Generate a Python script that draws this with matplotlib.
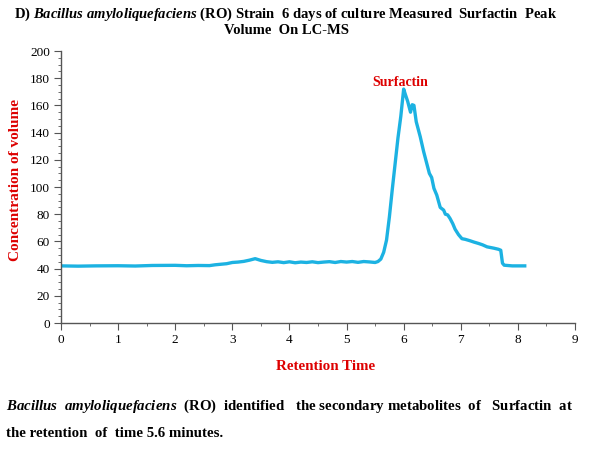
import matplotlib
matplotlib.use("Agg")
import matplotlib.pyplot as plt
from matplotlib.ticker import MultipleLocator

# ---- data ----
retention_time = [0.0, 0.3, 0.6, 1.0, 1.3, 1.6, 2.0, 2.2, 2.4, 2.6, 2.7, 2.8, 2.9, 3.0, 3.1,
                  3.2, 3.3, 3.4, 3.5, 3.6, 3.7, 3.8, 3.9, 4.0, 4.1, 4.2, 4.3, 4.4, 4.5, 4.6,
                  4.7, 4.8, 4.9, 5.0, 5.1, 5.2, 5.3, 5.4, 5.5, 5.55, 5.6, 5.65, 5.7, 5.75,
                  5.8, 5.85, 5.9, 5.95, 6.0, 6.03, 6.07, 6.12, 6.15, 6.18, 6.22, 6.29, 6.35,
                  6.40, 6.45, 6.49, 6.53, 6.58, 6.64, 6.70, 6.73, 6.77, 6.81, 6.86, 6.90,
                  6.96, 7.02, 7.08, 7.16, 7.23, 7.31, 7.38, 7.46, 7.52, 7.58, 7.66, 7.70,
                  7.73, 7.76, 7.9, 8.0, 8.12]
concentration = [42.0, 41.8, 42.0, 42.1, 41.9, 42.3, 42.4, 42.1, 42.3, 42.2, 42.8, 43.2, 43.6, 44.5, 44.8,
                 45.3, 46.2, 47.3, 46.0, 45.1, 44.6, 45.0, 44.4, 45.0, 44.3, 44.8, 44.5, 45.0, 44.4, 44.8,
                 45.1, 44.5, 45.2, 44.8, 45.2, 44.6, 45.2, 44.9, 44.5, 45.2, 47.0, 52.0, 61.0, 78.0,
                 98.0, 117.0, 136.0, 152.0, 172.0, 168.0, 163.0, 155.0, 160.5, 160.0, 148.0, 137.0, 126.0,
                 118.0, 110.0, 107.0, 99.0, 94.0, 85.0, 83.0, 80.0, 79.5, 77.0, 73.0, 69.0,
                 65.0, 62.0, 61.5, 60.5, 59.5, 58.5, 57.5, 56.0, 55.5, 55.0, 54.2, 53.5,
                 44.0, 42.5, 42.0, 42.0, 42.0]
x_ticks = [0, 1, 2, 3, 4, 5, 6, 7, 8, 9]
y_ticks = [0, 20, 40, 60, 80, 100, 120, 140, 160, 180, 200]

RED = "#dd0000"
LINE = "#1cb2e2"

plt.rcParams["font.family"] = ["Liberation Serif", "DejaVu Serif"]
plt.rcParams["mathtext.fontset"] = "custom"
plt.rcParams["mathtext.it"] = "Liberation Serif:italic:bold"
plt.rcParams["mathtext.rm"] = "Liberation Serif:bold"
plt.rcParams["mathtext.bf"] = "Liberation Serif:bold"

W, H = 600, 450
fig = plt.figure(figsize=(6, 4.5), dpi=100)
ax = fig.add_axes([61 / W, 1 - 323 / H, (575 - 61) / W, (323 - 51) / H])

ax.plot(retention_time, concentration, color=LINE, lw=2.4, solid_joinstyle="round")

ax.set_xlim(0, 9)
ax.set_ylim(0, 200)
ax.set_xticks(x_ticks)
ax.set_yticks(y_ticks)
ax.xaxis.set_minor_locator(MultipleLocator(0.5))
ax.yaxis.set_minor_locator(MultipleLocator(5))
for s in ["top", "right"]:
    ax.spines[s].set_visible(False)
for s in ["left", "bottom"]:
    ax.spines[s].set_color("#555555")
    ax.spines[s].set_linewidth(1.0)
ax.tick_params(which="major", length=5, color="#555555", labelsize=9.5, pad=3)
ax.tick_params(which="minor", length=2.5, color="#555555")

ax.text(5.94, 177, "Surfactin", color=RED, fontsize=10, fontweight="bold",
        ha="center", va="center")

fig.text(326 / W, 1 - 367 / H, "Retention Time", color=RED, fontsize=10.8,
         fontweight="bold", ha="center", va="center")
fig.text(16 / W, 1 - 180 / H, "Concentration of volume", color=RED, fontsize=11,
         fontweight="bold", ha="center", va="center", rotation=90)

fig.text(286 / W, 1 - 14 / H,
         r"D) $\mathit{Bacillus\ amyloliquefaciens}$ (RO) Strain  6 days of culture Measured  Surfactin  Peak",
         fontsize=10.55, fontweight="bold", ha="center", va="center")
fig.text(286 / W, 1 - 31 / H, "Volume  On LC-MS",
         fontsize=10.55, fontweight="bold", ha="center", va="center")

# justified caption line 1, built as one mathtext string so all words share a baseline
cap_words = [("Bacillus", "it", 0), ("amyloliquefaciens", "it", 2), ("(RO)", "rm", 2),
             ("identified", "rm", 2), ("the", "rm", 3), ("secondary", "rm", 1),
             ("metabolites", "rm", 1), ("of", "rm", 2), ("Surfactin", "rm", 3),
             ("at", "rm", 2)]
CAP_FS = 10.7
fig.canvas.draw()
renderer = fig.canvas.get_renderer()


def build(unit_em):
    parts = []
    for word, style, gap in cap_words:
        if gap:
            parts.append(r"\hspace{%.4f}" % (gap * unit_em))
        parts.append(r"\math%s{%s}" % (style, word))
    return "$" + "".join(parts) + "$"


def width_of(s):
    t = fig.text(0, 0, s, fontsize=CAP_FS, ha="left", va="baseline")
    w = t.get_window_extent(renderer).width
    t.remove()
    return w


w0 = width_of(build(0.0))
em_px = (width_of(r"$\mathrm{a}\hspace{10}\mathrm{a}$") - width_of(r"$\mathrm{aa}$")) / 10.0
total_gap = sum(g for _, _, g in cap_words)
unit_em = (573.0 - 6.0 - w0) / total_gap / em_px
fig.text(6 / W, 1 - 409.5 / H, build(unit_em), fontsize=CAP_FS, ha="left", va="baseline")

fig.text(6 / W, 1 - 436.8 / H, "the retention  of  time 5.6 minutes.",
         fontsize=CAP_FS, fontweight="bold", ha="left", va="baseline")

fig.savefig("out.png", dpi=100)
